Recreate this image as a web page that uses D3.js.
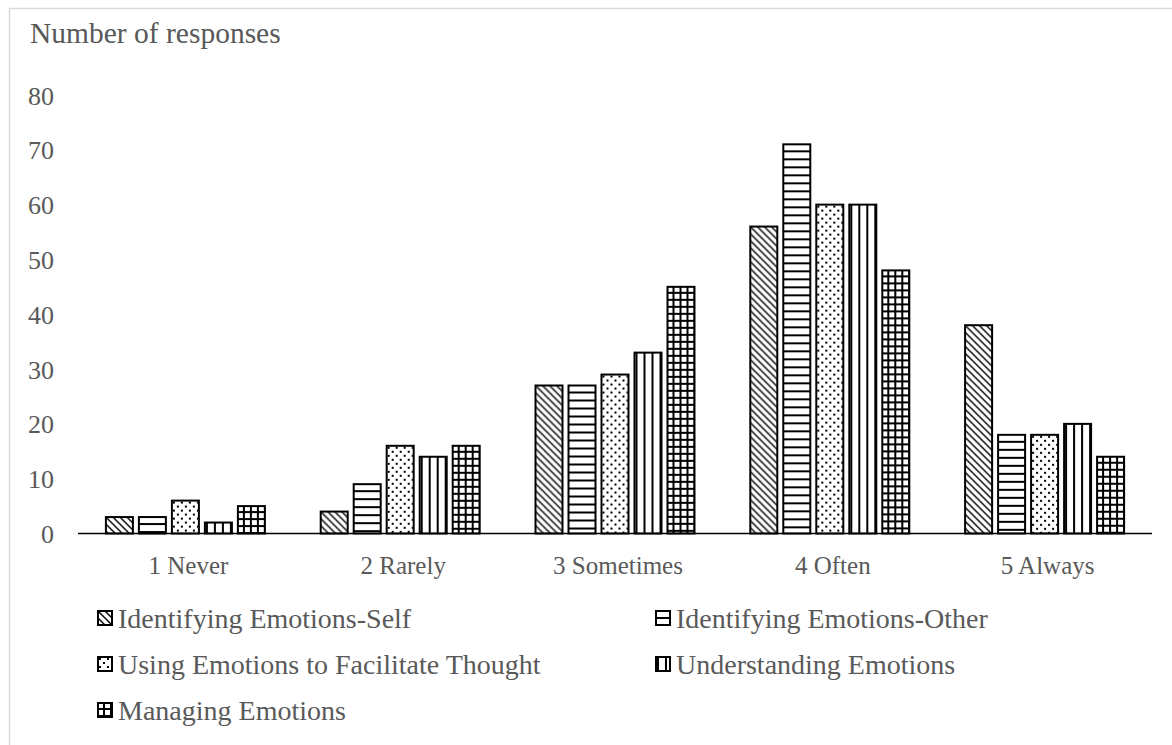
<!DOCTYPE html>
<html>
<head>
<meta charset="utf-8">
<script src="https://cdn.jsdelivr.net/npm/d3@7"></script>
<style>
  html, body { margin: 0; padding: 0; background: #fff; }
  svg { display: block; }
  text { font-family: "Liberation Serif", "Times New Roman", serif; fill: #595959; }
</style>
</head>
<body>
<svg id="chart" width="1172" height="745"></svg>
<script>
// Response categories (x axis)
const categories = ["1 Never", "2 Rarely", "3 Sometimes", "4 Often", "5 Always"];

// Series names (legend order)
const seriesNames = [
  "Identifying Emotions-Self",
  "Identifying Emotions-Other",
  "Using Emotions to Facilitate Thought",
  "Understanding Emotions",
  "Managing Emotions"
];

// Number of responses per category, one array per series
const selfValues        = [3, 4, 27, 56, 38];
const otherValues       = [3, 9, 27, 71, 18];
const facilitateValues  = [6, 16, 29, 60, 18];
const understandValues  = [2, 14, 33, 60, 20];
const manageValues      = [5, 16, 45, 48, 14];

const yTicks = [0, 10, 20, 30, 40, 50, 60, 70, 80];

const seriesValues = [selfValues, otherValues, facilitateValues, understandValues, manageValues];
const patternIds = ["pSelf", "pOther", "pFacil", "pUnder", "pManage"];

const svg = d3.select("#chart");

// Chart frame
svg.append("rect")
  .attr("x", 9.5).attr("y", 8.5)
  .attr("width", 1200).attr("height", 800)
  .attr("fill", "none").attr("stroke", "#d9d9d9").attr("stroke-width", 1.5);

// Fill patterns
const defs = svg.append("defs");

// wide downward diagonal
const p0 = defs.append("pattern").attr("id", "pSelf")
  .attr("patternUnits", "userSpaceOnUse").attr("width", 7).attr("height", 7);
p0.append("rect").attr("width", 7).attr("height", 7).attr("fill", "#fff");
p0.append("path").attr("d", "M-3.5,-3.5 L10.5,10.5 M-7,0 L7,14 M0,-7 L14,7")
  .attr("stroke", "#000").attr("stroke-width", 1.4);

// horizontal lines
const p1 = defs.append("pattern").attr("id", "pOther")
  .attr("patternUnits", "userSpaceOnUse").attr("width", 8).attr("height", 8);
p1.append("rect").attr("width", 8).attr("height", 8).attr("fill", "#fff");
p1.append("rect").attr("x", 0).attr("y", 6).attr("width", 8).attr("height", 2).attr("fill", "#000");

// dotted
const p2 = defs.append("pattern").attr("id", "pFacil")
  .attr("patternUnits", "userSpaceOnUse").attr("width", 8).attr("height", 8);
p2.append("rect").attr("width", 8).attr("height", 8).attr("fill", "#fff");
p2.append("rect").attr("x", 1).attr("y", 1).attr("width", 2).attr("height", 2).attr("fill", "#000");
p2.append("rect").attr("x", 5).attr("y", 5).attr("width", 2).attr("height", 2).attr("fill", "#000");

// vertical lines
const p3 = defs.append("pattern").attr("id", "pUnder")
  .attr("patternUnits", "userSpaceOnUse").attr("width", 8).attr("height", 8);
p3.append("rect").attr("width", 8).attr("height", 8).attr("fill", "#fff");
p3.append("rect").attr("x", 1).attr("y", 0).attr("width", 2).attr("height", 8).attr("fill", "#000");

// grid
const p4 = defs.append("pattern").attr("id", "pManage")
  .attr("patternUnits", "userSpaceOnUse").attr("width", 7).attr("height", 7);
p4.append("rect").attr("width", 7).attr("height", 7).attr("fill", "#fff");
p4.append("rect").attr("x", 5).attr("y", 0).attr("width", 2).attr("height", 7).attr("fill", "#000");
p4.append("rect").attr("x", 0).attr("y", 5).attr("width", 7).attr("height", 2).attr("fill", "#000");

// Scales
const x0 = d3.scaleBand().domain(categories).range([78, 1152]).paddingInner(0).paddingOuter(0);
const groupWidth = 159;
const x1 = d3.scaleBand().domain(d3.range(seriesNames.length))
  .range([-groupWidth / 2, groupWidth / 2]).paddingInner(6 / 33).paddingOuter(0);
const y = d3.scaleLinear().domain([0, 80]).range([533.5, 95]);

// Axis title
svg.append("text").attr("x", 30).attr("y", 43)
  .attr("font-size", 29.5).text("Number of responses");

// Y axis labels (no line)
const yAxis = d3.axisLeft(y).tickValues(yTicks).tickSize(0).tickPadding(0);
const gy = svg.append("g").attr("transform", "translate(54,0)").call(yAxis);
gy.select(".domain").remove();
gy.selectAll("text")
  .attr("font-size", 26)
  .attr("font-family", "Liberation Serif, Times New Roman, serif")
  .attr("fill", "#595959")
  .attr("dy", "0.35em");

// Bars
seriesNames.forEach((name, si) => {
  const g = svg.append("g");
  categories.forEach((cat, ci) => {
    const v = seriesValues[si][ci];
    const bx = x0(cat) + x0.bandwidth() / 2 + x1(si);
    const by = y(v);
    const bg = g.append("g").attr("transform", `translate(${bx},${by})`);
    bg.append("rect")
      .attr("x", 0).attr("y", 0)
      .attr("width", x1.bandwidth())
      .attr("height", y(0) - by)
      .attr("fill", `url(#${patternIds[si]})`)
      .attr("stroke", "#000").attr("stroke-width", 2);
  });
});

// X axis
const xAxis = d3.axisBottom(x0).tickSize(0).tickPadding(0);
const gx = svg.append("g").attr("transform", `translate(0,${y(0)})`).call(xAxis);
gx.select(".domain").attr("stroke", "#000").attr("stroke-width", 1.5)
  .attr("d", `M78,0H1152`);
gx.selectAll("text")
  .attr("font-size", 25)
  .attr("font-family", "Liberation Serif, Times New Roman, serif")
  .attr("fill", "#595959")
  .attr("x", 3)
  .attr("y", 40)
  .attr("dy", 0);

// Legend
const legendPos = [
  [98, 618], [656, 618],
  [98, 664], [656, 664],
  [98, 710]
];
seriesNames.forEach((name, si) => {
  const [lx, ly] = legendPos[si];
  const lg = svg.append("g").attr("transform", `translate(${lx},${ly - 7})`);
  lg.append("rect").attr("x", 0).attr("y", 0).attr("width", 14).attr("height", 14)
    .attr("fill", `url(#${patternIds[si]})`)
    .attr("stroke", "#000").attr("stroke-width", 2);
  svg.append("text").attr("x", lx + 20).attr("y", ly)
    .attr("dy", "0.35em").attr("font-size", 28).text(name);
});
</script>
</body>
</html>
